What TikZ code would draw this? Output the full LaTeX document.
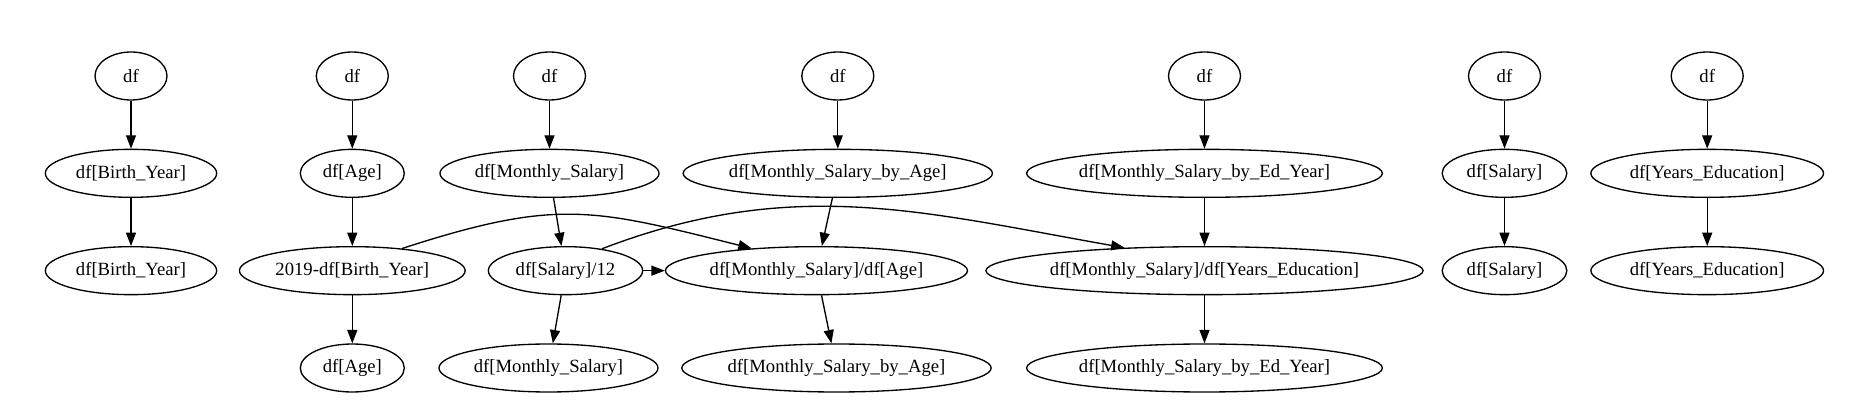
\documentclass[tikz,border=0pt]{standalone}
\usepackage{fontspec}
\setmainfont{Liberation Serif}
\usetikzlibrary{shapes.geometric,arrows.meta,positioning}

\begin{document}
\begin{tikzpicture}[
    x=0.75pt, y=0.75pt,
    node distance=36pt,
    var/.style={ellipse, draw, line width=1pt, minimum height=36pt, inner sep=0pt, font=\fontsize{14pt}{16pt}\selectfont},
    arrow/.style={-{Triangle[length=10pt, width=7.5pt]}, line width=1pt}
]
    \useasboundingbox (0,0) rectangle (1867,407);

    % Nodes
    \node[var, minimum width=54pt] (df1) at (131,331) {df};
    \node[var, minimum width=128.5pt, below=of df1] (birth) {df[Birth\_Year]};
    \node[var, minimum width=128.5pt, below=of birth] (birth3) {df[Birth\_Year]};

    \node[var, minimum width=54pt] (df2) at (352.3,331) {df};
    \node[var, minimum width=78pt, below=of df2] (age) {df[Age]};
    \node[var, minimum width=169.3pt, below=of age] (age2019) {2019-df[Birth\_Year]};
    \node[var, minimum width=78pt, below=of age2019] (age4) {df[Age]};

    \node[var, minimum width=54pt] (df3) at (549.5,331) {df};
    \node[var, minimum width=164.3pt, below=of df3] (msal) {df[Monthly\_Salary]};
    \node[var, minimum width=115.7pt, below=of msal, xshift=12pt] (sal12) {df[Salary]/12};
    \node[var, minimum width=164.3pt, below=of sal12, xshift=-12.75pt] (msal4) {df[Monthly\_Salary]};

    \node[var, minimum width=54pt] (df4) at (837.8,331) {df};
    \node[var, minimum width=232pt, below=of df4] (mba) {df[Monthly\_Salary\_by\_Age]};
    \node[var, minimum width=224.5pt, below=of mba, xshift=-16pt] (msage) {df[Monthly\_Salary]/df[Age]};
    \node[var, minimum width=232pt, below=of msage, xshift=15pt] (mba4) {df[Monthly\_Salary\_by\_Age]};

    \node[var, minimum width=54pt] (df5) at (1204.5,331) {df};
    \node[var, minimum width=266.8pt, below=of df5] (mbey) {df[Monthly\_Salary\_by\_Ed\_Year]};
    \node[var, minimum width=321pt, below=of mbey] (msyed) {df[Monthly\_Salary]/df[Years\_Education]};
    \node[var, minimum width=266.8pt, below=of msyed] (mbey4) {df[Monthly\_Salary\_by\_Ed\_Year]};

    \node[var, minimum width=54pt] (df6) at (1504.5,331) {df};
    \node[var, minimum width=93.5pt, below=of df6] (sal) {df[Salary]};
    \node[var, minimum width=93.5pt, below=of sal] (sal3) {df[Salary]};

    \node[var, minimum width=54pt] (df7) at (1707.2,331) {df};
    \node[var, minimum width=174.5pt, below=of df7] (yed) {df[Years\_Education]};
    \node[var, minimum width=174.5pt, below=of yed] (yed3) {df[Years\_Education]};

    % Arrows
    \draw[arrow] (df1) -- (birth);
    \draw[arrow] (birth) -- (birth3);
    \draw[arrow] (df2) -- (age);
    \draw[arrow] (age) -- (age2019);
    \draw[arrow] (age2019) -- (age4);
    \draw[arrow] (df3) -- (msal);
    \draw[arrow] (msal) -- (sal12);
    \draw[arrow] (sal12) -- (msal4);
    \draw[arrow] (sal12) -- (msage);
    \draw[arrow] (df4) -- (mba);
    \draw[arrow] (mba) -- (msage);
    \draw[arrow] (msage) -- (mba4);
    \draw[arrow] (df5) -- (mbey);
    \draw[arrow] (mbey) -- (msyed);
    \draw[arrow] (msyed) -- (mbey4);
    \draw[arrow] (df6) -- (sal);
    \draw[arrow] (sal) -- (sal3);
    \draw[arrow] (df7) -- (yed);
    \draw[arrow] (yed) -- (yed3);
    \draw[arrow] (age2019.24) to[out=18, in=166, looseness=1.2] (msage.161);
    \draw[arrow] (sal12.31) to[out=21, in=170] (msyed.164);
\end{tikzpicture}
\end{document}
